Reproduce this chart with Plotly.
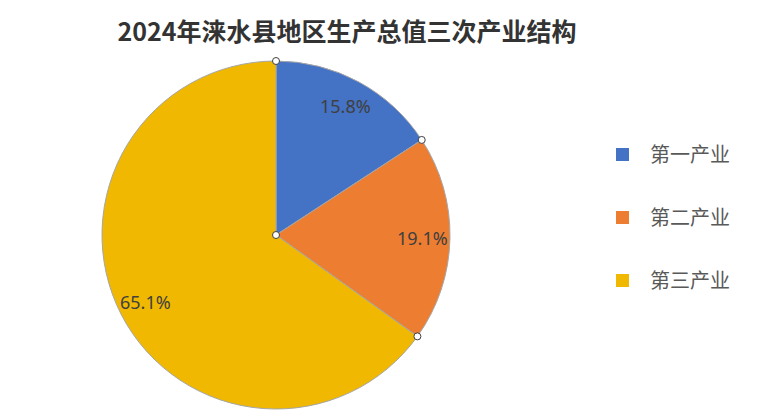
import numpy as np
import plotly.graph_objects as go

# Data
industries = ["第一产业", "第二产业", "第三产业"]
shares = [15.8, 19.1, 65.1]
colors = ["#4472C4", "#ED7D31", "#F0B800"]

# page body adds an 8px margin, so the figure is sized/positioned for that
W, H = 759, 407
px0, px1 = 94, 442
py0, py1 = 53, 401
R = (px1 - px0) / 2
pad = 10  # extra room so the handles at the rim are not clipped
xdom = [px0 / W, px1 / W]
ydom = [1 - py1 / H, 1 - py0 / H]
axdom_x = [(px0 - pad) / W, (px1 + pad) / W]
axdom_y = [1 - py1 / H, 1 - (py0 - pad) / H]
ext = 1 + pad / R

fig = go.Figure()

fig.add_trace(go.Pie(
    labels=industries,
    values=shares,
    sort=False,
    direction="clockwise",
    rotation=0,
    marker=dict(colors=colors, line=dict(color="#A6A6A6", width=1)),
    textinfo="none",
    domain=dict(x=xdom, y=ydom),
    showlegend=False,
    hoverinfo="label+percent",
))

# invisible cartesian frame matching the pie, used to place labels/handles
fig.add_trace(go.Scatter(x=[None], y=[None], showlegend=False, hoverinfo="skip"))

total = sum(shares)
cum = np.concatenate([[0], np.cumsum(shares)]) / total

# percentage labels along each slice bisector
for i, v in enumerate(shares):
    mid = 2 * np.pi * (cum[i] + cum[i + 1]) / 2
    r = 0.84
    fig.add_annotation(
        x=r * np.sin(mid), y=r * np.cos(mid), xref="x", yref="y",
        text=f"{v:.1f}%", showarrow=False,
        font=dict(family="Noto Sans", size=18, color="#404040"),
    )

# small white handles at slice boundaries and centre
hx = list(np.sin(2 * np.pi * cum[:-1])) + [0]
hy = list(np.cos(2 * np.pi * cum[:-1])) + [0]
for x, y in zip(hx, hy):
    fig.add_shape(
        type="circle", xref="x", yref="y", xsizemode="pixel", ysizemode="pixel",
        xanchor=x, yanchor=y, x0=-3.5, x1=3.5, y0=-3.5, y1=3.5,
        fillcolor="white", line=dict(color="#404040", width=1), layer="above",
    )

# legend entries
for i, (name, c) in enumerate(zip(industries, colors)):
    fig.add_trace(go.Scatter(
        x=[None], y=[None], mode="markers", name=name,
        marker=dict(symbol="square", size=13, color=c),
        legendgroup=f"g{i}",
    ))

fig.update_layout(
    width=W, height=H,
    margin=dict(l=0, r=0, t=0, b=0),
    paper_bgcolor="white",
    plot_bgcolor="rgba(0,0,0,0)",
    title=dict(
        text="<b>2024年涞水县地区生产总值三次产业结构</b>",
        x=339 / W, xanchor="center", y=1 - 24 / H, yanchor="middle",
        font=dict(family="Noto Sans CJK SC", size=25, color="#333333"),
    ),
    xaxis=dict(domain=axdom_x, range=[-ext, ext], visible=False, fixedrange=True),
    yaxis=dict(domain=axdom_y, range=[-1, ext], visible=False, fixedrange=True),
    legend=dict(
        x=587 / W, xanchor="left", y=1 - 127 / H, yanchor="top",
        font=dict(family="Noto Sans CJK SC", size=20, color="#595959"),
        tracegroupgap=34, itemwidth=45,
        bgcolor="rgba(0,0,0,0)",
    ),
)

fig.write_html("out.html")
